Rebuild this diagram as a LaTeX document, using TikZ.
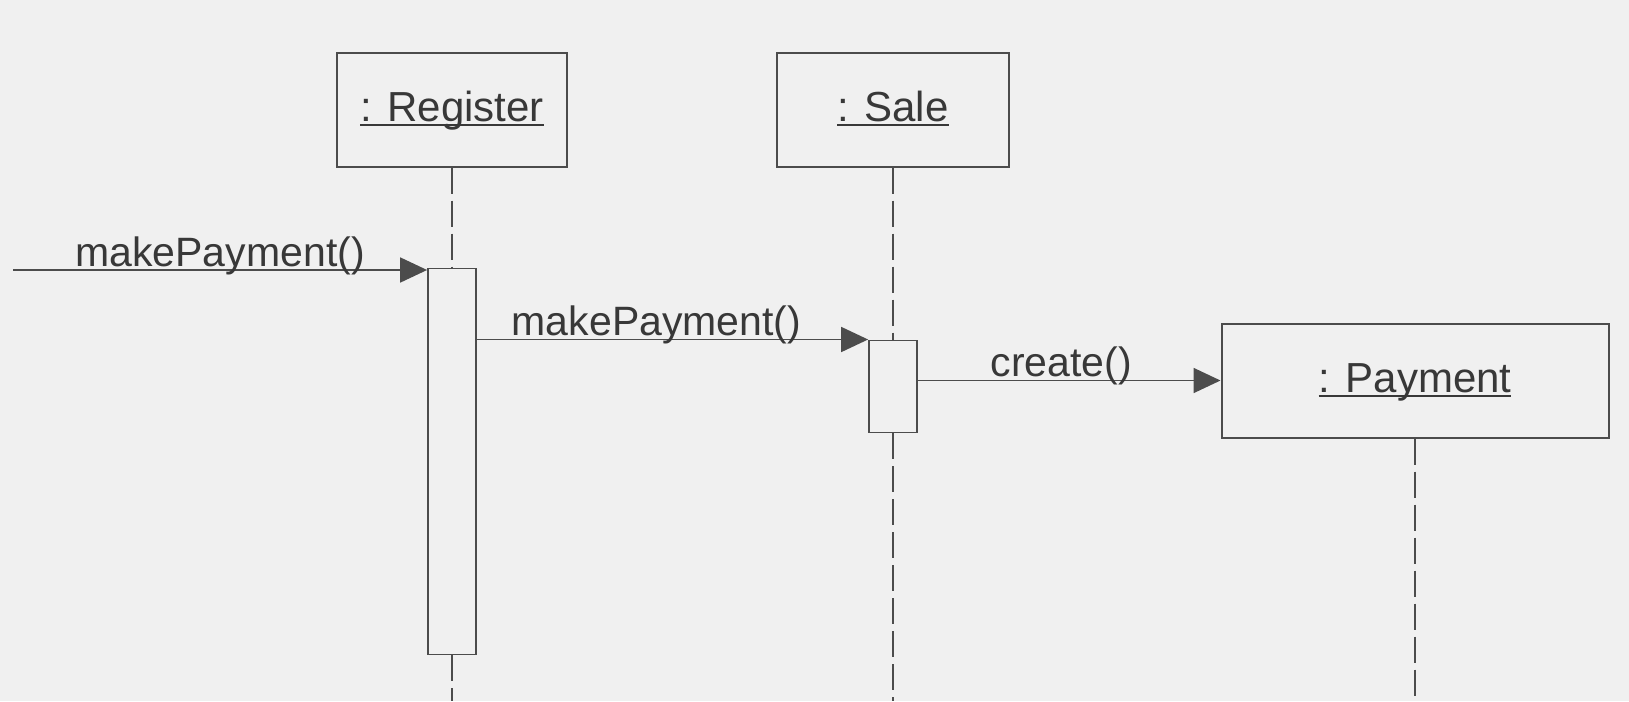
\documentclass[tikz,border=0pt]{standalone}
\usepackage{fontspec}
\setmainfont{Liberation Sans}
\usetikzlibrary{positioning,arrows.meta}
\definecolor{Ink}{gray}{0.22}
\definecolor{Wire}{gray}{0.3}
\definecolor{Paper}{gray}{0.94}
\newsavebox\objbox
\newcommand{\objname}[1]{\sbox\objbox{#1}\rlap{\rule[-2.6pt]{\wd\objbox}{1pt}}\usebox\objbox}

\begin{document}
\begin{tikzpicture}[x=0.5pt, y=-0.5pt, every node/.style={font=\fontsize{20.5pt}{24pt}\selectfont, text=Ink}]
\tikzstyle{obj}=[draw=Wire, line width=1pt, minimum height=57pt, text height=15.5pt, text depth=4pt, font=\fontsize{21pt}{25pt}\selectfont]
\tikzstyle{bar}=[draw=Wire, line width=0.9pt, minimum width=24pt, inner sep=0pt]
\tikzstyle{msg}=[draw=Wire, line width=0.9pt, -{Triangle[length=13.5pt, width=12.5pt]}]
\tikzstyle{life}=[draw=Wire, line width=0.8pt, dash pattern=on 13pt off 3.5pt]
\tikzstyle{lbl}=[anchor=base, yshift=2pt]
\fill[Paper] (0,0) rectangle (1629,701);
\coordinate (bottom) at (0,701);
\node[obj, minimum width=115pt] (reg) at (452,109.5) {\objname{: Register}};
\node[obj, minimum width=116pt, right=104pt of reg] (sale) {\objname{: Sale}};
\node[obj, minimum width=193.5pt] (pay) at (1415,380.5) {\objname{: Payment}};
\node[bar, minimum height=193pt, below=50pt of reg] (regbar) {};
\node[bar, minimum height=46pt, below=86pt of sale] (salebar) {};
% lifelines
\draw[life] (reg) -- (regbar);
\draw[life] (regbar) -- (regbar |- bottom);
\draw[life] (sale) -- (salebar);
\draw[life] (salebar) -- (salebar |- bottom);
\draw[life] (pay) -- (pay |- bottom);
% messages
\coordinate (caller) at (13,270);
\draw[msg] (caller) -- (caller -| regbar.west) node[lbl, midway] {makePayment()};
\draw[msg] (regbar.east |- salebar.north) -- (salebar.north west) node[lbl, midway, xshift=-8pt] {makePayment()};
\draw[msg] (salebar.east |- pay.west) -- (pay.west) node[lbl, midway, xshift=-4pt] {create()};
\end{tikzpicture}
\end{document}
